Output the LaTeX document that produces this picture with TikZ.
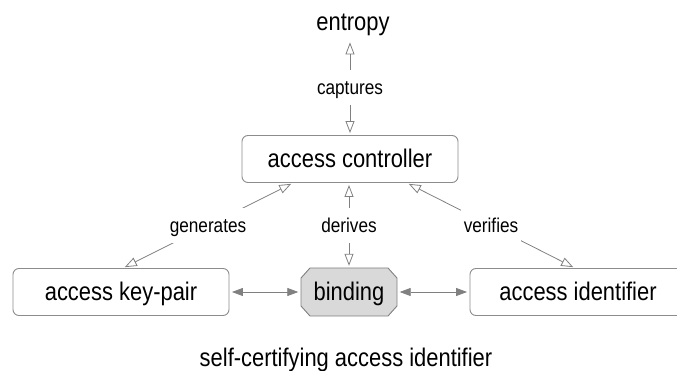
\documentclass[tikz,border=0pt]{standalone}
\usepackage{fontspec}
\setmainfont{Liberation Sans}[FakeStretch=0.86]
\usetikzlibrary{arrows.meta,calc}
\definecolor{linegray}{HTML}{808080}
\definecolor{boxgray}{HTML}{8C8C8C}
\definecolor{bindfill}{HTML}{D9D9D9}
\tikzset{
  bigtext/.style={font=\fontsize{25.5}{30}\selectfont, text height=19pt, text depth=1pt},
  roundbox/.style={bigtext, draw=boxgray, line width=0.9pt, rounded corners=6pt,
    minimum width=216pt, minimum height=47pt, inner sep=0pt},
  bindbox/.style={bigtext, minimum width=96pt, minimum height=48pt, inner sep=0pt},
  octa/.style={draw=linegray, fill=bindfill, line width=0.9pt},
  elabel/.style={font=\fontsize{20}{24}\selectfont, text height=15pt, text depth=1.5pt,
    fill=white, inner xsep=3pt, inner ysep=9.5pt},
  openarr/.style={draw=linegray, line width=0.8pt,
    {Triangle[open, length=12pt, width=9pt, fill=white]}-{Triangle[open, length=12pt, width=9pt, fill=white]},
    shorten >=2pt, shorten <=2pt},
  filledarr/.style={draw=linegray, line width=0.8pt, fill=linegray,
    {Triangle[length=11pt, width=8pt]}-{Triangle[length=11pt, width=8pt]},
    shorten >=2.5pt, shorten <=2.5pt}
}
\begin{document}
\begin{tikzpicture}[x=1pt, y=-1pt]
\useasboundingbox (0,0) rectangle (677,371);
\node[bigtext, inner sep=8.5pt] (entropy) at (353,21.7) {entropy};
\node[roundbox] (ctrl) at (350,159) {access controller};
\node[roundbox] (kp) at (121,292) {access key-pair};
\coordinate (bc) at (349,292);
\draw[octa] ($(bc)+(-39,-24)$) -- ($(bc)+(39,-24)$) -- ($(bc)+(48,-14)$) -- ($(bc)+(48,14)$)
  -- ($(bc)+(39,24)$) -- ($(bc)+(-39,24)$) -- ($(bc)+(-48,14)$) -- ($(bc)+(-48,-14)$) -- cycle;
\node[bindbox] (bind) at (bc) {binding};
\node[roundbox] (aid) at (578,292) {access identifier};
\node[bigtext, anchor=base, inner sep=0pt] (sca) at (346,366) {self-certifying access identifier};

\draw[openarr] (entropy.south -| ctrl.north) -- node[elabel] {captures} (ctrl.north);
\draw[openarr] ([xshift=-57pt]ctrl.south) -- node[elabel] {generates} ([xshift=2pt]kp.north);
\draw[openarr] ([xshift=-1pt]ctrl.south) -- node[elabel] {derives} (bind.north);
\draw[openarr] ([xshift=57pt]ctrl.south) -- node[elabel] {verifies} ([xshift=-3pt]aid.north);

\draw[filledarr] (kp.east) -- (bind.west);
\draw[filledarr] (bind.east) -- (aid.west);
\end{tikzpicture}
\end{document}
